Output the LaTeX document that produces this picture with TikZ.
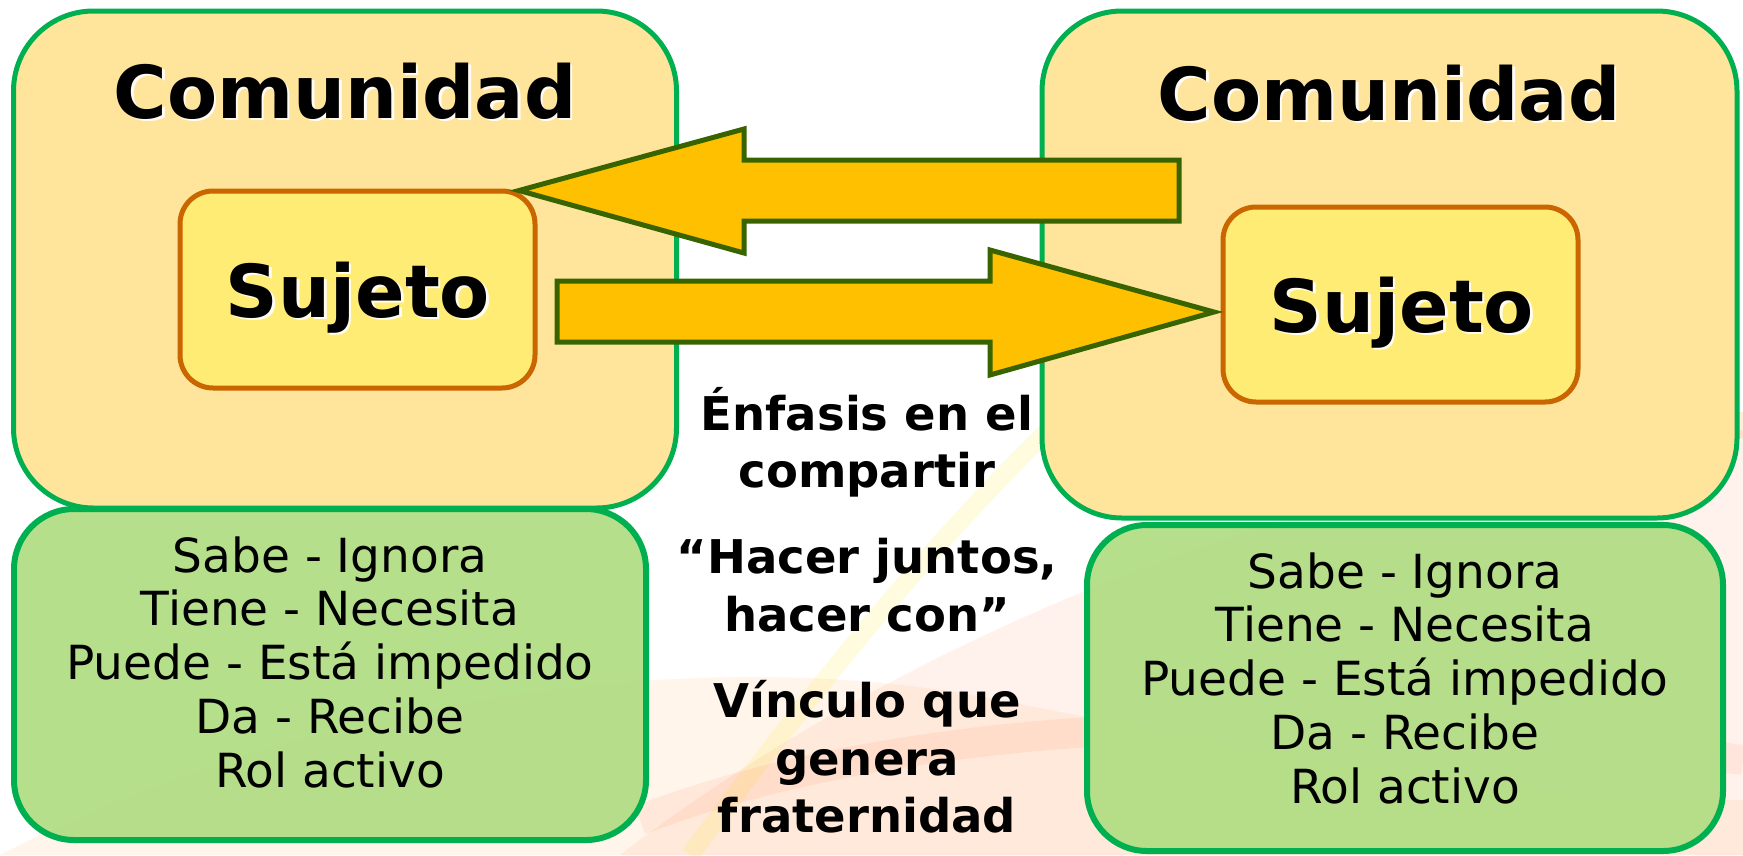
\documentclass[tikz,border=0pt]{standalone}
\usepackage{fontspec}
\setmainfont{DejaVu Sans}
\begin{document}
\begin{tikzpicture}[x=1pt,y=-1pt]
\definecolor{comfill}{HTML}{FFE59B}
\definecolor{sujfill}{HTML}{FFEC75}
\definecolor{sujline}{HTML}{C96600}
\definecolor{grfill}{HTML}{B0DD82}
\definecolor{grline}{HTML}{00B050}
\definecolor{arfill}{HTML}{FFC000}
\definecolor{arline}{HTML}{386400}
\tikzset{
  combox/.style={draw=grline, fill=comfill, line width=5pt, rounded corners=80pt, inner sep=0pt, minimum width=#1},
  sujbox/.style={draw=sujline, fill=sujfill, line width=5pt, rounded corners=33pt, inner sep=0pt, minimum width=355pt},
  grbox/.style={draw=grline, fill=grfill, fill opacity=0.92, line width=6pt, rounded corners=60pt, inner sep=0pt},
  bigtxt/.style={font=\fontsize{73}{80}\selectfont\bfseries, anchor=base, inner sep=0pt},
  shadowtxt/.style={bigtxt, text=white, opacity=0.9},
  listtxt/.style={font=\fontsize{47}{54}\selectfont, anchor=base, inner sep=0pt},
  midtxt/.style={font=\fontsize{46.5}{54}\selectfont\bfseries, anchor=base, inner sep=0pt},
  blockarrow/.style={draw=arline, fill=arfill, line width=5pt, line join=miter},
}
\useasboundingbox (0,0) rectangle (1743,855);
\fill[white] (0,0) rectangle (1743,855);
% faint background swooshes
\fill[orange!60!red, opacity=0.07] (620,855) .. controls (900,640) and (1300,470) .. (1743,430) -- (1743,855) -- cycle;
\fill[orange, opacity=0.08] (0,855) .. controls (300,700) and (700,640) .. (1000,700) .. controls (1300,760) and (1500,800) .. (1743,800) -- (1743,855) -- cycle;
\draw[yellow!90!orange, opacity=0.13, line width=18pt] (690,855) .. controls (820,680) and (950,520) .. (1080,400);
\draw[red!50!orange, opacity=0.07, line width=30pt] (640,820) .. controls (900,720) and (1300,700) .. (1743,760);
\draw[orange, opacity=0.14, line width=26pt] (1050,470) .. controls (1300,440) and (1500,430) .. (1743,425);

% community boxes
\node[combox=663pt, minimum height=497pt] (comL) at (345,259.5) {};
\node[combox=695pt, minimum height=507pt] (comR) at (1389.5,264.5) {};
% subject boxes
\node[sujbox, minimum height=197pt] (sujL) at (357.5,289.5) {};
\node[sujbox, minimum height=195pt] (sujR) at (1400.5,304.5) {};

% block arrows
\coordinate (tipL) at (519,190.5);
\coordinate (tipR) at (1214,312);
\draw[blockarrow] (tipL) -- (744,129) -- (744,160) -- (1179,160) -- (1179,221) -- (744,221) -- (744,253) -- cycle;
\draw[blockarrow] (557,281) -- (990,281) -- (990,250) -- (tipR) -- (990,375) -- (990,342) -- (557,342) -- cycle;

% attribute boxes
\node[grbox, minimum width=632pt, minimum height=331pt] (grL) at (330,674.5) {};
\node[grbox, minimum width=636pt, minimum height=326pt] (grR) at (1405,688) {};

% titles
\node[shadowtxt] at (347.5,120.5) {Comunidad};
\node[bigtxt] (tComL) at (345,118) {Comunidad};
\node[shadowtxt] at (1391.5,122.5) {Comunidad};
\node[bigtxt] (tComR) at (1389,120) {Comunidad};
\node[shadowtxt] at (360.5,319.5) {Sujeto};
\node[bigtxt] (tSujL) at (358,317) {Sujeto};
\node[shadowtxt] at (1404.5,334.5) {Sujeto};
\node[bigtxt] (tSujR) at (1402,332) {Sujeto};

% lists
\node[listtxt] (l1) at (330,572) {Sabe - Ignora};
\node[listtxt] (l2) at (330,625.75) {Tiene - Necesita};
\node[listtxt] (l3) at (330,679.5) {Puede - Está impedido};
\node[listtxt] (l4) at (330,733.25) {Da - Recibe};
\node[listtxt] (l5) at (330,787) {Rol activo};
\node[listtxt] (r1) at (1405,588) {Sabe - Ignora};
\node[listtxt] (r2) at (1405,641.75) {Tiene - Necesita};
\node[listtxt] (r3) at (1405,695.5) {Puede - Está impedido};
\node[listtxt] (r4) at (1405,749.25) {Da - Recibe};
\node[listtxt] (r5) at (1405,803) {Rol activo};

% middle text
\node[midtxt] (m1) at (867,430) {Énfasis en el};
\node[midtxt] (m2) at (867,487) {compartir};
\node[midtxt] (m3) at (867,573) {“Hacer juntos,};
\node[midtxt] (m4) at (867,631) {hacer con”};
\node[midtxt] (m5) at (867,717) {Vínculo que};
\node[midtxt] (m6) at (867,775) {genera};
\node[midtxt] (m7) at (867,832) {fraternidad};
\end{tikzpicture}
\end{document}
